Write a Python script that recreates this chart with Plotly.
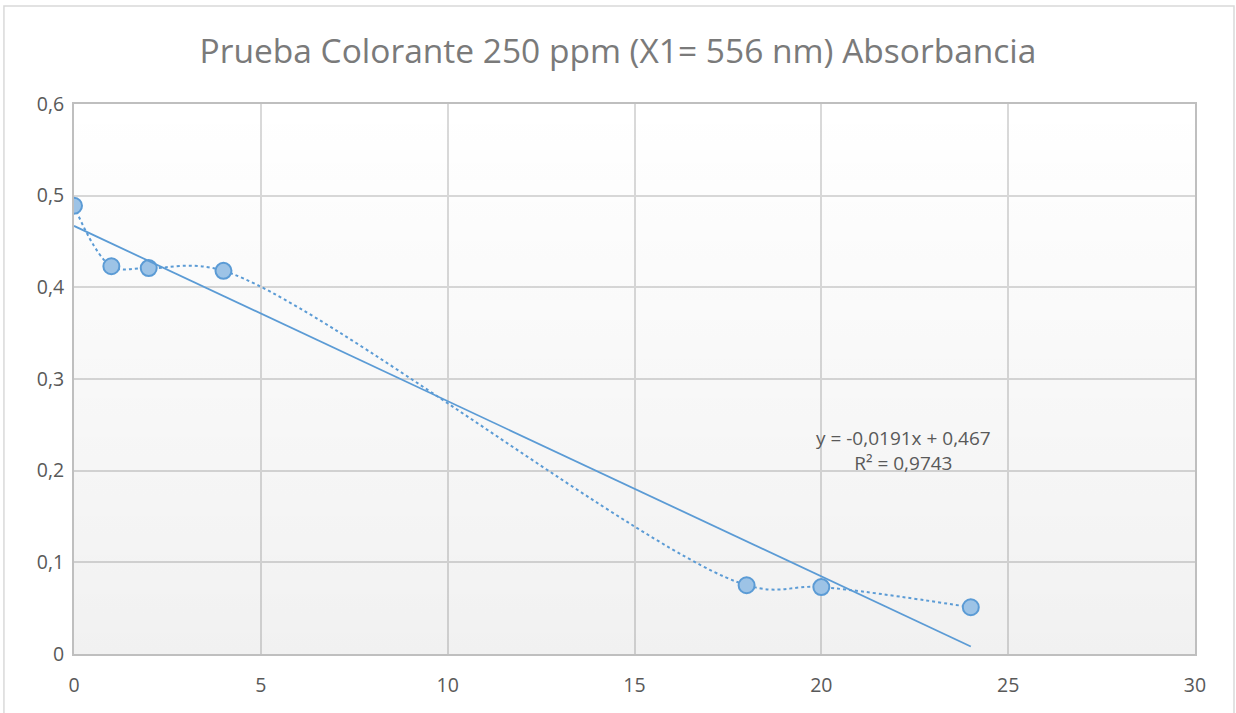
import numpy as np
import plotly.graph_objects as go

# Data
tiempo = [0, 1, 2, 4, 18, 20, 24]
absorbancia = [0.489, 0.423, 0.421, 0.418, 0.075, 0.073, 0.051]
x_ticks = [0, 5, 10, 15, 20, 25, 30]
y_ticks = [0, 0.1, 0.2, 0.3, 0.4, 0.5, 0.6]
eq_text = "y = -0,0191x + 0,467<br>R² = 0,9743"

BLUE = "#5B9BD5"
FONT = "Open Sans, Noto Sans, sans-serif"

# Linear trendline fitted to the data
slope, intercept = np.polyfit(tiempo, absorbancia, 1)
trend_x = [min(tiempo), max(tiempo)]
trend_y = [slope * x + intercept for x in trend_x]

fig = go.Figure()

# Plot-area background gradient, translucent so the gridlines still show
fig.add_trace(
    go.Scatter(
        x=[x_ticks[0], x_ticks[-1], x_ticks[-1], x_ticks[0], x_ticks[0]],
        y=[y_ticks[0], y_ticks[0], y_ticks[-1], y_ticks[-1], y_ticks[0]],
        fill="toself",
        fillgradient={
            "type": "vertical",
            "colorscale": [[0, "rgba(0,0,0,0.055)"], [1, "rgba(0,0,0,0)"]],
        },
        line={"width": 0},
        mode="lines",
        hoverinfo="skip",
        showlegend=False,
    )
)

# Smoothed dotted series with markers
fig.add_trace(
    go.Scatter(
        x=tiempo,
        y=absorbancia,
        mode="lines+markers",
        line={"color": BLUE, "width": 2, "dash": "dot", "shape": "spline", "smoothing": 1},
        marker={"size": 16, "color": "#9DC3E6", "line": {"color": BLUE, "width": 2}},
        showlegend=False,
    )
)

# Linear trendline
fig.add_trace(
    go.Scatter(
        x=trend_x,
        y=trend_y,
        mode="lines",
        line={"color": BLUE, "width": 1.8},
        showlegend=False,
        hoverinfo="skip",
    )
)

fig.add_annotation(
    x=22.2,
    y=0.222,
    text=eq_text,
    showarrow=False,
    align="center",
    font={"size": 19, "color": "#595959", "family": FONT},
)

axis_common = {
    "showgrid": True,
    "gridcolor": "#D9D9D9",
    "gridwidth": 1.5,
    "zeroline": False,
    "showline": True,
    "linecolor": "#BFBFBF",
    "linewidth": 2,
    "mirror": True,
    "ticks": "",
    "tickfont": {"size": 19.5, "color": "#595959", "family": FONT},
}

fig.update_layout(
    width=1236,
    height=713,
    title={
        "text": "Prueba Colorante 250 ppm (X1= 556 nm) Absorbancia",
        "x": 0.5,
        "xanchor": "center",
        "y": 0.928,
        "yanchor": "middle",
        "font": {"size": 33.5, "color": "#7A7A7A", "family": FONT},
    },
    separators=",.",
    xaxis={**axis_common, "range": [x_ticks[0], x_ticks[-1]], "tickvals": x_ticks, "ticklabelstandoff": 13},
    yaxis={**axis_common, "range": [y_ticks[0], y_ticks[-1]], "tickvals": y_ticks, "ticklabelstandoff": 4},
    margin={"l": 74, "r": 41, "t": 104, "b": 59},
    paper_bgcolor="white",
    plot_bgcolor="white",
    shapes=[
        {
            "type": "rect",
            "xref": "paper",
            "yref": "paper",
            "x0": -0.0625,
            "x1": 1.0348,
            "y0": -0.12,
            "y1": 1.178,
            "line": {"color": "#D9D9D9", "width": 1.5},
            "layer": "below",
        }
    ],
)

fig.write_html(
    "out.html",
    config={"displayModeBar": False},
    post_script="document.body.style.margin='0';",
)
